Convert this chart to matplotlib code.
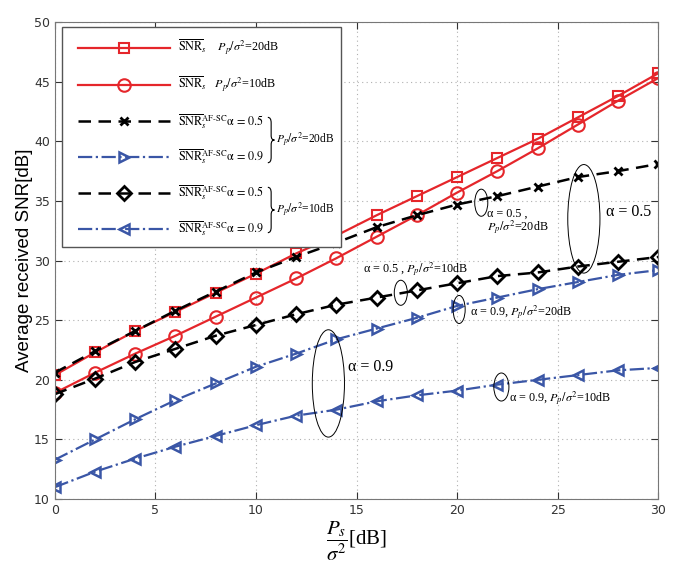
import numpy as np
import matplotlib
matplotlib.use("Agg")
import matplotlib.pyplot as plt
from matplotlib.patches import Ellipse, Rectangle, PathPatch
from matplotlib.path import Path

plt.rcParams["mathtext.fontset"] = "stix"

# x axis: Ps/sigma^2 in dB
ps_db = [0, 2, 4, 6, 8, 10, 12, 14, 16, 18, 20, 22, 24, 26, 28, 30]

# average received SNR [dB]
snr_20 = [20.4, 22.3, 24.1, 25.7, 27.3, 28.9, 30.6, 32.1, 33.8, 35.4, 37.0, 38.6, 40.2, 42.0, 43.8, 45.7]
snr_10 = [18.9, 20.6, 22.2, 23.7, 25.3, 26.9, 28.5, 30.2, 32.0, 33.8, 35.7, 37.5, 39.4, 41.4, 43.4, 45.3]
af05_20 = [20.6, 22.4, 24.1, 25.8, 27.4, 29.0, 30.3, 31.5, 32.8, 33.8, 34.7, 35.4, 36.2, 37.0, 37.5, 38.1]
af09_20 = [13.3, 15.0, 16.7, 18.3, 19.7, 21.1, 22.2, 23.4, 24.3, 25.2, 26.2, 26.9, 27.6, 28.2, 28.8, 29.2]
af05_10 = [18.8, 20.1, 21.5, 22.6, 23.7, 24.6, 25.5, 26.3, 26.9, 27.5, 28.1, 28.7, 29.0, 29.5, 29.9, 30.3]
af09_10 = [11.0, 12.3, 13.4, 14.4, 15.3, 16.2, 17.0, 17.5, 18.2, 18.7, 19.1, 19.6, 20.0, 20.4, 20.8, 21.0]

RED = "#e5262b"
BLUE = "#3a56a6"
SERIF = "Liberation Serif"

snr_bar = r"$\overline{\mathrm{SNR}}_s$"
snr_af = r"$\overline{\mathrm{SNR}}_s^{\mathrm{AF\text{-}SC}}\mathrm{\alpha}\,\mathrm{=}\,%s$"
labels = [
    snr_bar + r"    $P_p/\sigma^2$=20dB",
    snr_bar + r"   $P_p/\sigma^2$=10dB",
    snr_af % "0.5",
    snr_af % "0.9",
    snr_af % "0.5",
    snr_af % "0.9",
]


def brace(ax, x, ymid, h, w):
    """Right-pointing curly brace in axes coords."""
    y0, y1 = ymid - h / 2, ymid + h / 2
    xm = x + w * 0.5
    verts = [(x, y1), (xm, y1), (xm, y1 - h * 0.12),
             (xm, ymid + h * 0.1),
             (xm, ymid), (x + w, ymid),
             (xm, ymid), (xm, ymid - h * 0.1),
             (xm, y0 + h * 0.12),
             (xm, y0), (x, y0)]
    codes = [Path.MOVETO, Path.CURVE3, Path.CURVE3,
             Path.LINETO,
             Path.CURVE3, Path.CURVE3,
             Path.CURVE3, Path.CURVE3,
             Path.LINETO,
             Path.CURVE3, Path.CURVE3]
    ax.add_patch(PathPatch(Path(verts, codes), fill=False, lw=0.8, edgecolor="black",
                           transform=ax.transAxes, zorder=6))


fig = plt.figure(figsize=(6.85, 5.64), dpi=100)
ax = fig.add_axes([0.080, 0.115, 0.881, 0.846])

ax.plot(ps_db, snr_20, "-s", color=RED, lw=1.6, ms=7, mfc="none", mew=1.5, label=labels[0])
ax.plot(ps_db, snr_10, "-o", color=RED, lw=1.6, ms=9, mfc="none", mew=1.5, label=labels[1])
ax.plot(ps_db, af05_20, "--x", color="black", lw=1.8, ms=6, mew=2, dashes=(5, 3), label=labels[2])
ax.plot(ps_db, af09_20, "-.>", color=BLUE, lw=1.6, ms=7, mfc="none", mew=1.8, label=labels[3])
ax.plot(ps_db, af05_10, "--D", color="black", lw=1.8, ms=7, mfc="none", mew=2, dashes=(5, 3), label=labels[4])
ax.plot(ps_db, af09_10, "-.<", color=BLUE, lw=1.6, ms=7, mfc="none", mew=1.8, label=labels[5])

ax.set_xlim(0, 30)
ax.set_ylim(10, 50)
ax.set_xticks(range(0, 31, 5))
ax.set_yticks(range(10, 51, 5))
ax.grid(True, linestyle=(0, (1, 3)), color="#b0b0b0", lw=0.8)
ax.tick_params(direction="in", top=True, right=True, labelsize=9, colors="#333333", length=5)
for sp in ax.spines.values():
    sp.set_color("#777777")

ax.set_ylabel("Average received SNR[dB]", fontsize=13.5, family="Liberation Sans", labelpad=1)
ax.set_xlabel(r"$\dfrac{P_s}{\sigma^2}$[dB]", fontsize=15, family=SERIF, labelpad=2)

# legend box drawn by hand so the braces fit inside
frame = Rectangle((0.0116, 0.528), 0.462, 0.4615, transform=ax.transAxes,
                  facecolor="white", edgecolor="#555555", lw=1.0, zorder=4)
ax.add_patch(frame)
leg = ax.legend(loc="upper left", bbox_to_anchor=(0.033, 0.975), frameon=False,
                prop={"family": SERIF, "size": 8.7}, handlelength=7.6, labelspacing=1.4,
                borderaxespad=0, borderpad=0.3, handletextpad=0.65, numpoints=1)
leg.set_zorder(5)

for yb, txt in [(0.7526, "20dB"), (0.606, "10dB")]:
    brace(ax, 0.353, yb, 0.095, 0.011)
    ax.text(0.367, yb, r"$P_p/\sigma^2$=" + txt, transform=ax.transAxes, fontsize=8.3,
            family=SERIF, va="center", zorder=6)

# ellipses and annotations
ellipses = [
    (21.2, 34.85, 0.65, 2.27),
    (26.3, 33.5, 1.6, 9.1),
    (17.2, 27.3, 0.65, 2.1),
    (20.1, 25.9, 0.6, 2.35),
    (13.6, 19.7, 1.6, 9.0),
    (22.2, 19.4, 0.75, 2.35),
]
for cx, cy, w, h in ellipses:
    ax.add_patch(Ellipse((cx, cy), w, h, fill=False, edgecolor="black", lw=0.7, zorder=3))

small = dict(fontsize=8.7, family=SERIF, va="center")
ax.text(21.5, 33.95, "α = 0.5 ,", **small)
ax.text(21.5, 32.75, r"$P_p/\sigma^2$=20dB", **small)
ax.text(15.3, 29.2, r"α = 0.5 , $P_p/\sigma^2$=10dB", **small)
ax.text(20.65, 25.6, r"α = 0.9, $P_p/\sigma^2$=20dB", **small)
ax.text(22.6, 18.4, r"α = 0.9, $P_p/\sigma^2$=10dB", **small)
ax.text(27.4, 34.1, "α = 0.5", fontsize=11.5, family=SERIF, va="center")
ax.text(14.6, 21.1, "α = 0.9", fontsize=11.5, family=SERIF, va="center")

fig.savefig("out.png", dpi=100)
